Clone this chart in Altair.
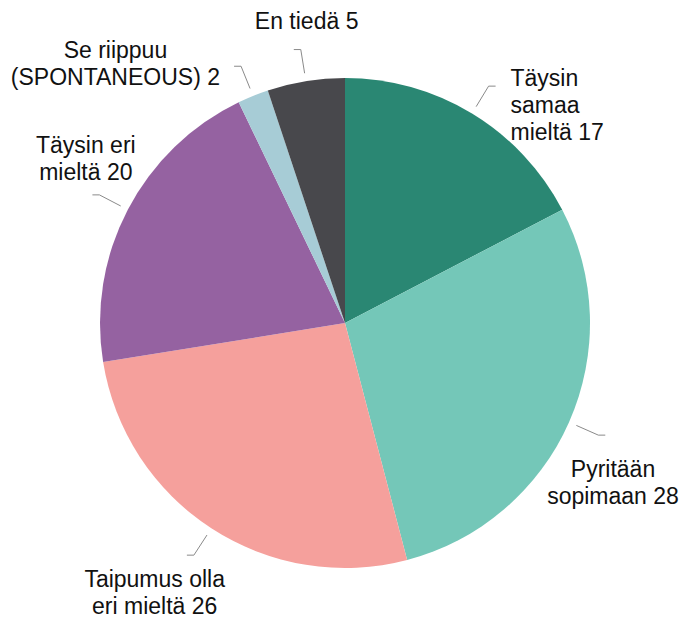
import math
import altair as alt
import pandas as pd

categories = ["Täysin samaa mieltä", "Pyritään sopimaan", "Taipumus olla eri mieltä",
              "Täysin eri mieltä", "Se riippuu (SPONTANEOUS)", "En tiedä"]
values = [17, 28, 26, 20, 2, 5]
label_lines = [["Täysin", "samaa", "mieltä"], ["Pyritään", "sopimaan"],
               ["Taipumus olla", "eri mieltä"], ["Täysin eri", "mieltä"],
               ["Se riippuu", "(SPONTANEOUS)"], ["En tiedä"]]
colors = ["#2a8773", "#74c7b8", "#f5a09c", "#9562a1", "#a7ccd6", "#48484c"]

# label layout: (radius, dx, dy, align)
layout = [(273, 24, -11, "left"), (327, -31, 14.5, "center"), (336, -7, -25, "center"),
          (307, 13, -35.5, "center"), (300, -117, 6.5, "center"), (303, 10, -2, "center")]

CX, CY, R = 337, 315, 245

total = sum(values)
cum = 0
mids = []
for v in values:
    mids.append((cum + v / 2) / total * 2 * math.pi)
    cum += v

labels = ["\n".join(l[:-1] + [f"{l[-1]} {v}"]) for l, v in zip(label_lines, values)]
df = pd.DataFrame({"idx": list(range(len(values))), "cat": categories, "value": values,
                   "mid": mids, "label": labels})

segs = []
for m in mids:
    s, c = math.sin(m), math.cos(m)
    x0, y0 = CX + 253 * s, CY - 253 * c
    x1, y1 = CX + 277 * s, CY - 277 * c
    x2 = x1 + (7 if s > 0 else -7)
    segs.append(dict(x=x0, y=y0, x2=x1, y2=y1))
    segs.append(dict(x=x1, y=y1, x2=x2, y2=y1))
seg_df = pd.DataFrame(segs)

pie = alt.Chart(df).mark_arc(outerRadius=R).encode(
    theta=alt.Theta("value:Q", stack=True),
    order=alt.Order("idx:Q"),
    color=alt.Color("cat:N", scale=alt.Scale(domain=categories, range=colors), legend=None),
    x=alt.value(CX), y=alt.value(CY),
)

leaders = alt.Chart(seg_df).mark_rule(color="#8a8a8a", strokeWidth=1).encode(
    x=alt.X("x:Q", scale=None, axis=None),
    y=alt.Y("y:Q", scale=None, axis=None),
    x2="x2:Q", y2="y2:Q",
)

texts = []
for i, (r, dx, dy, al) in enumerate(layout):
    texts.append(
        alt.Chart(df).transform_filter(alt.datum.idx == i).mark_text(
            radius=r, dx=dx, dy=dy, align=al, baseline="middle", lineBreak="\n",
            font="Liberation Sans", fontSize=23, lineHeight=27, color="#111111",
        ).encode(
            theta=alt.Theta("mid:Q", scale=None),
            text="label:N",
            x=alt.value(CX), y=alt.value(CY),
        )
    )

chart = alt.layer(pie, leaders, *texts).properties(
    width=673, height=611, autosize="none", padding=0
).configure_view(stroke=None)

chart.save("out.html", embed_options={"renderer": "svg", "actions": False})
